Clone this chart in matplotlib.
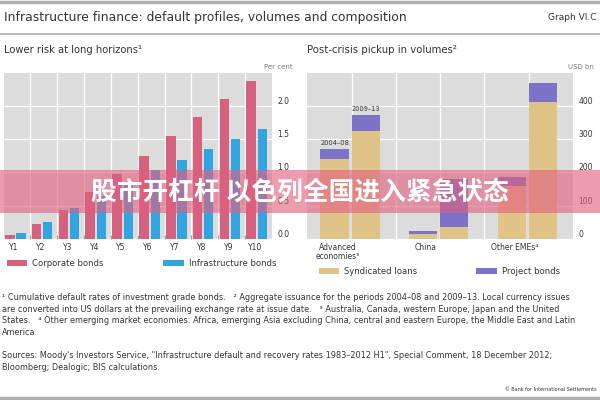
import matplotlib
matplotlib.use("Agg")
import matplotlib.pyplot as plt
import numpy as np
from matplotlib.patches import Rectangle

# ---------------------------------------------------------------------------
# Data
# ---------------------------------------------------------------------------
horizons = ["Y1", "Y2", "Y3", "Y4", "Y5", "Y6", "Y7", "Y8", "Y9", "Y10"]
corporate = [0.06, 0.22, 0.44, 0.71, 0.97, 1.25, 1.55, 1.83, 2.10, 2.38]
infrastructure = [0.09, 0.25, 0.47, 0.65, 0.85, 1.03, 1.18, 1.35, 1.50, 1.66]

regions = ["Advanced\neconomies³", "China", "Other EMEs⁴"]
synd_0408 = [241, 15, 158]
proj_0408 = [30, 8, 28]
synd_0913 = [325, 37, 412]
proj_0913 = [47, 143, 56]
period_labels = ["2004–08", "2009–13"]

left_yticks = [0.0, 0.5, 1.0, 1.5, 2.0]
right_yticks = [0, 100, 200, 300, 400]

# ---------------------------------------------------------------------------
# Style
# ---------------------------------------------------------------------------
plt.rcParams.update({
    "font.family": ["DejaVu Sans"],
    "axes.linewidth": 0,
})
TXT = "#333333"
BG = "#dcdcdc"
C_CORP = "#d5617f"
C_INFRA = "#32a4e0"
C_SYND = "#e0c387"
C_PROJ = "#7c73c9"

fig = plt.figure(figsize=(6, 4), dpi=100)

# header / rules
fig.add_artist(plt.Line2D([0, 1], [0.996, 0.996], color="#b0b0b0", lw=2.5))
fig.add_artist(plt.Line2D([0, 1], [0.915, 0.915], color="#b0b0b0", lw=1.2))
fig.add_artist(plt.Line2D([0, 1], [0.004, 0.004], color="#b0b0b0", lw=2.5))
fig.text(0.006, 0.955, "Infrastructure finance: default profiles, volumes and composition",
         fontsize=8.9, color=TXT, va="center", ha="left")
fig.text(0.995, 0.955, "Graph VI.C", fontsize=6.5, color=TXT, va="center", ha="right")


def style_axes(ax, yticks, fmt):
    ax.set_facecolor(BG)
    ax.set_yticks(yticks)
    ax.set_yticklabels([fmt(v) for v in yticks])
    ax.yaxis.tick_right()
    ax.tick_params(axis="y", length=0, labelsize=5.5, labelcolor=TXT, pad=4)
    for lbl in ax.get_yticklabels():
        lbl.set_verticalalignment("bottom")
    ax.grid(True, color="white", lw=0.9)
    ax.set_axisbelow(True)
    for sp in ax.spines.values():
        sp.set_visible(False)


# ---------------------------------------------------------------------------
# Left panel: cumulative default rates
# ---------------------------------------------------------------------------
fig.text(0.006, 0.875, "Lower risk at long horizons¹", fontsize=7.2, color=TXT, va="center")
fig.text(0.488, 0.833, "Per cent", fontsize=5, color="#777777", va="center", ha="right")

ax1 = fig.add_axes([0.006, 0.4025, 0.447, 0.416])
x = np.arange(len(horizons))
ax1.bar(x + 0.23, corporate, width=0.36, color=C_CORP, label="Corporate bonds")
ax1.bar(x + 0.65, infrastructure, width=0.34, color=C_INFRA, label="Infrastructure bonds")
ax1.set_xlim(0, len(horizons))
ax1.set_ylim(0, 2.5)
style_axes(ax1, left_yticks, lambda v: f"{v:.1f}")
ax1.set_xticks(x + 0.38)
ax1.set_xticklabels(horizons)
ax1.set_xticks(np.arange(1, len(horizons)), minor=True)
ax1.tick_params(axis="x", which="major", length=0, labelsize=5.5, labelcolor=TXT, pad=3)
ax1.tick_params(axis="x", which="minor", direction="in", length=3, color="#888888", width=0.6)
ax1.xaxis.grid(False, which="major")
ax1.xaxis.grid(True, which="minor", color="white", lw=0.9)
ax1.legend(loc="upper left", bbox_to_anchor=(0.0, -0.1), ncol=2, frameon=False,
           fontsize=6.1, handlelength=2.4, handleheight=0.7, columnspacing=7,
           labelcolor=TXT, borderaxespad=0, handletextpad=0.6)

# ---------------------------------------------------------------------------
# Right panel: issuance volumes
# ---------------------------------------------------------------------------
fig.text(0.512, 0.875, "Post-crisis pickup in volumes²", fontsize=7.3, color=TXT, va="center")
fig.text(0.99, 0.833, "USD bn", fontsize=5, color="#777777", va="center", ha="right")

ax2 = fig.add_axes([0.512, 0.4025, 0.443, 0.416])
g = np.arange(len(regions)) * 2
ax2.bar(g + 0.62, synd_0408, width=0.64, color=C_SYND, label="Syndicated loans")
ax2.bar(g + 0.62, proj_0408, width=0.64, bottom=synd_0408, color=C_PROJ, label="Project bonds")
ax2.bar(g + 1.32, synd_0913, width=0.64, color=C_SYND)
ax2.bar(g + 1.32, proj_0913, width=0.64, bottom=synd_0913, color=C_PROJ)
ax2.set_xlim(0, 6)
ax2.set_ylim(0, 500)
style_axes(ax2, right_yticks, lambda v: f"{v:d}")
ax2.set_xticks(g + 0.68)
ax2.set_xticklabels(regions, linespacing=1.0)
ax2.set_xticks(np.arange(1, 6), minor=True)
ax2.tick_params(axis="x", which="both", length=0, labelsize=5.5, labelcolor=TXT, pad=3)
ax2.xaxis.grid(False, which="major")
ax2.xaxis.grid(True, which="minor", color="white", lw=0.9)

# period labels above the advanced-economy bars
ax2.annotate(period_labels[0], (g[0] + 0.62, synd_0408[0] + proj_0408[0]),
             xytext=(0, 2), textcoords="offset points", ha="center", va="bottom",
             fontsize=4.8, color=TXT)
ax2.annotate(period_labels[1], (g[0] + 1.32, synd_0913[0] + proj_0913[0]),
             xytext=(0, 2), textcoords="offset points", ha="center", va="bottom",
             fontsize=4.8, color=TXT)

ax2.legend(loc="upper left", bbox_to_anchor=(0.03, -0.15), ncol=2, frameon=False,
           fontsize=6.1, handlelength=2.4, handleheight=0.7, columnspacing=7,
           labelcolor=TXT, borderaxespad=0, handletextpad=0.6)

# ---------------------------------------------------------------------------
# Footnotes and sources
# ---------------------------------------------------------------------------
notes = [
    "¹ Cumulative default rates of investment grade bonds.   ² Aggregate issuance for the periods 2004–08 and 2009–13. Local currency issues",
    "are converted into US dollars at the prevailing exchange rate at issue date.   ³ Australia, Canada, western Europe, Japan and the United",
    "States.   ⁴ Other emerging market economies: Africa, emerging Asia excluding China, central and eastern Europe, the Middle East and Latin",
    "America.",
]
for i, line in enumerate(notes):
    fig.text(0.004, 0.257 - i * 0.0295, line, fontsize=5.85, color=TXT, va="center")

sources = [
    "Sources: Moody's Investors Service, \"Infrastructure default and recovery rates 1983–2012 H1\", Special Comment, 18 December 2012;",
    "Bloomberg; Dealogic; BIS calculations.",
]
for i, line in enumerate(sources):
    fig.text(0.004, 0.11 - i * 0.0295, line, fontsize=5.85, color=TXT, va="center")
fig.text(0.995, 0.027, "© Bank for International Settlements", fontsize=3.5, color=TXT,
         ha="right", va="center")

# ---------------------------------------------------------------------------
# Overlay banner
# ---------------------------------------------------------------------------
fig.add_artist(Rectangle((0, 0.468), 1, 0.107, transform=fig.transFigure,
                         facecolor="#e0607f", alpha=0.62, edgecolor="none", zorder=10))
fig.text(0.5, 0.521, "股市开杠杆 以色列全国进入紧急状态", fontsize=18.5, color="white",
         fontweight="bold", ha="center", va="center", zorder=11,
         family=["Noto Sans CJK SC", "DejaVu Sans"])

fig.savefig("out.png", dpi=100)
